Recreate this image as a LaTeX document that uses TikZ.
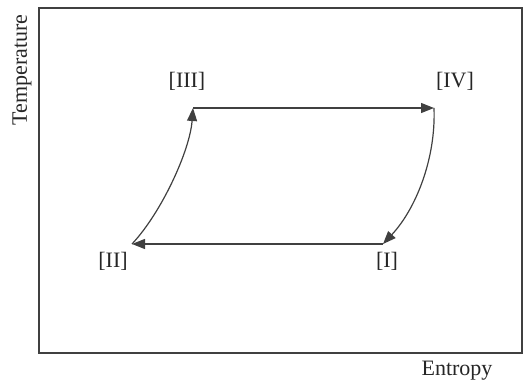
\documentclass[tikz,border=0pt]{standalone}
\usepackage{fontspec}
\setmainfont{Liberation Serif}
\usetikzlibrary{arrows.meta}

\begin{document}
\begin{tikzpicture}[x=1pt,y=-1pt,
  flow/.style={draw=black!75,line width=1.2pt,-{Triangle[length=13pt,width=10pt]}},
  lbl/.style={font=\fontsize{22}{26}\selectfont,text=black!85}]
\useasboundingbox (0,0) rectangle (529,387);
\draw[black!75,line width=1.2pt] (39,8) rectangle (522,353);
\coordinate (s1) at (383,244);
\coordinate (s2) at (132,244);
\coordinate (s3) at (193,108);
\coordinate (s4) at (434,108);
\node[lbl] (l1) at (387,261) {[I]};
\node[lbl] (l2) at (113,261) {[II]};
\node[lbl] (l3) at (187,81) {[III]};
\node[lbl] (l4) at (455,81) {[IV]};
\node[lbl,rotate=90] (ty) at (22,70) {Temperature};
\node[lbl] (sx) at (457,371) {Entropy};
\draw[flow] (s1) -- (s2);
\draw[flow] (s2) .. controls (162,212) and (190,150) .. (s3);
\draw[flow] (s3) -- (s4);
\draw[flow] (s4) .. controls (436,160) and (415,210) .. (s1);
\end{tikzpicture}
\end{document}
